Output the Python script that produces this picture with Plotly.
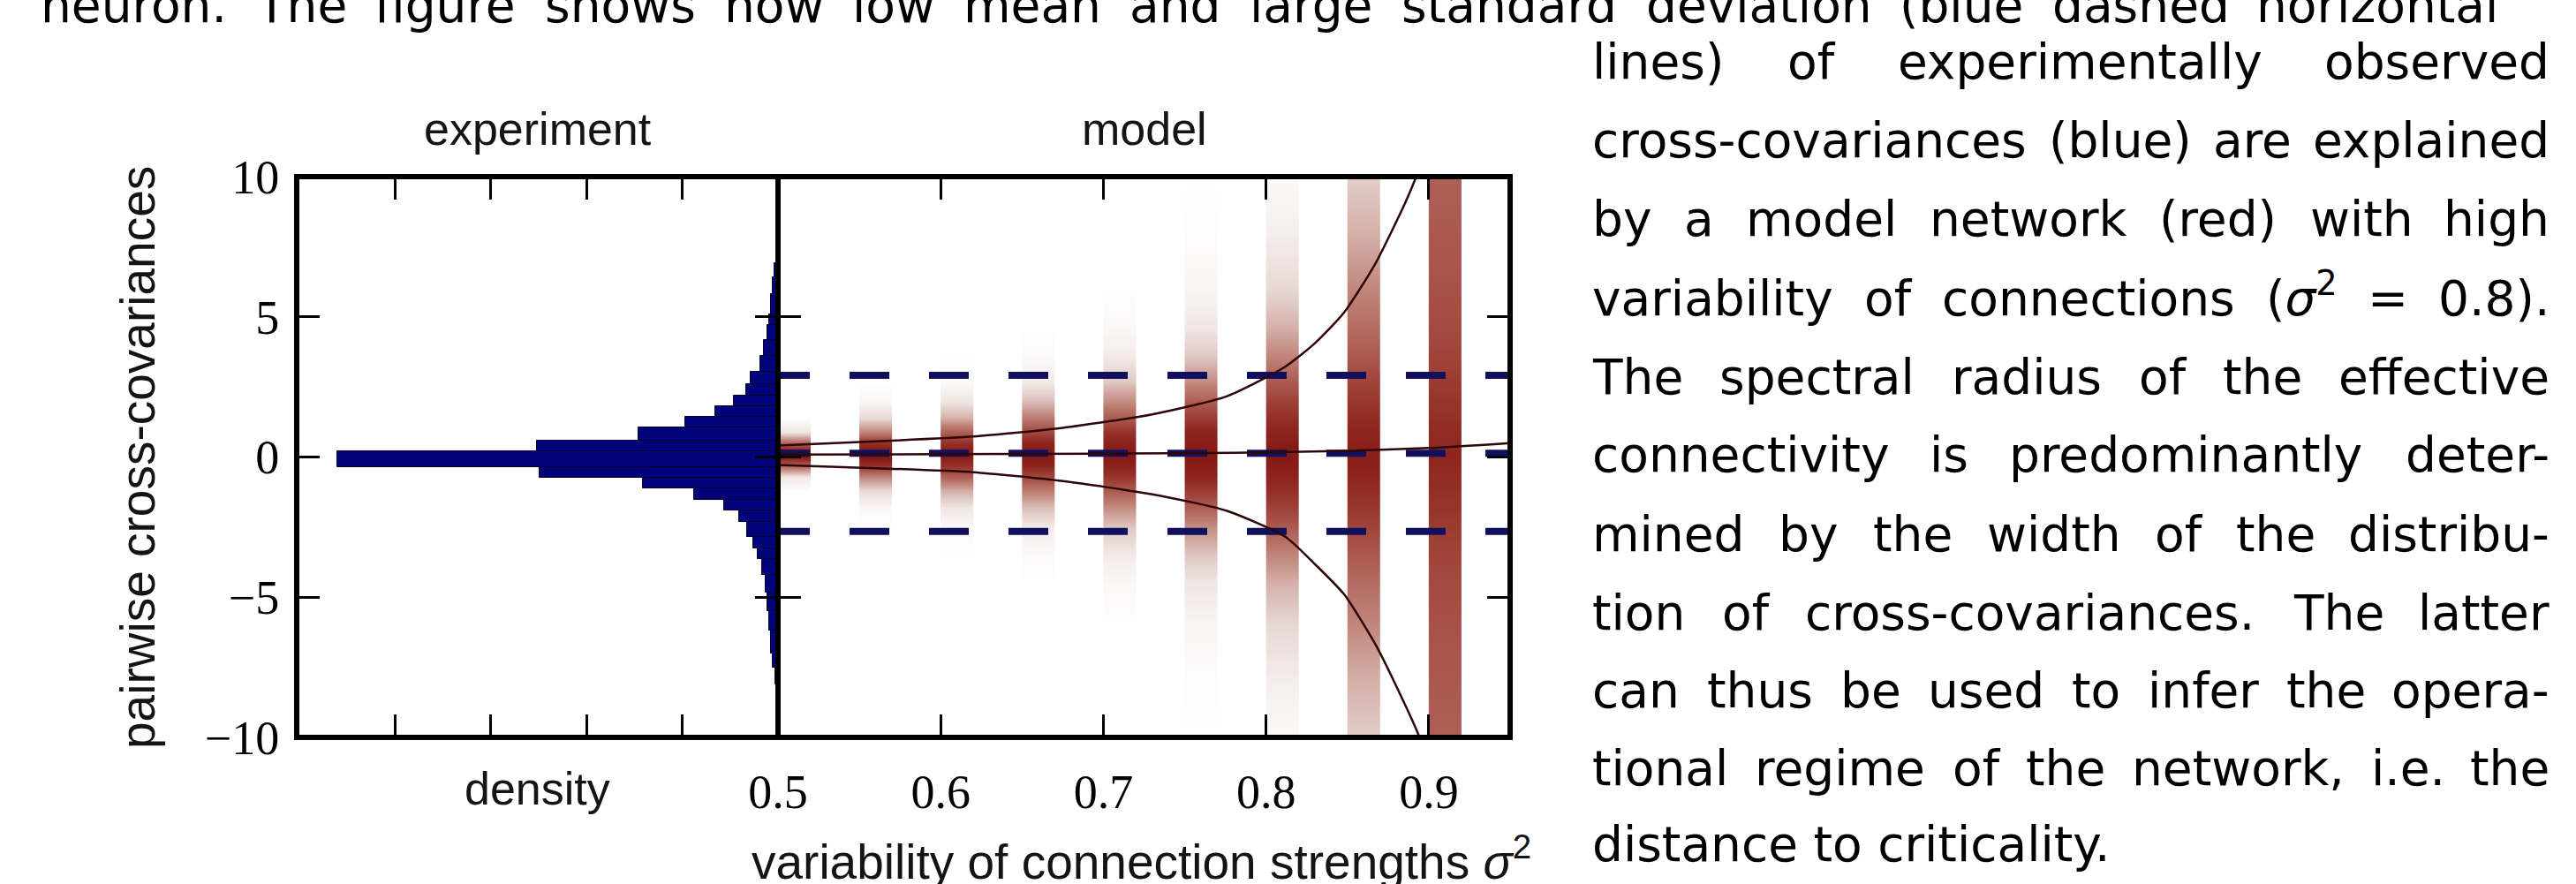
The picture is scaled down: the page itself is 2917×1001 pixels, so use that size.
import re
import plotly.graph_objects as go

W, H = 2917, 1001

# ------------------------------------------------------------------ data
# experiment: histogram of pairwise cross-covariances (horizontal bars)
HIST_LO = [-8.1, -7.5, -7.0, -6.2, -5.5, -4.84, -4.2, -3.64, -3.25, -2.85, -2.32, -1.91, -1.53, -1.12, -0.73,
           -0.35, 0.20, 0.59, 1.06, 1.43, 1.81, 2.18, 2.60, 3.04, 3.60, 4.16, 4.70, 5.10, 5.80, 6.40]
HIST_HI = [-7.5, -7.0, -6.2, -5.5, -4.84, -4.2, -3.64, -3.25, -2.85, -2.32, -1.91, -1.53, -1.12, -0.73, -0.35,
           0.20, 0.59, 1.06, 1.43, 1.81, 2.18, 2.60, 3.04, 3.60, 4.16, 4.70, 5.10, 5.80, 6.40, 6.90]
HIST_DENSITY = [0.003, 0.0055, 0.007, 0.009, 0.011, 0.013, 0.017, 0.021, 0.026, 0.032, 0.041, 0.056, 0.088,
                0.141, 0.249, 0.460, 0.252, 0.146, 0.097, 0.065, 0.046, 0.033, 0.029, 0.018, 0.015, 0.011,
                0.009, 0.007, 0.0055, 0.0037]

# experiment: mean and mean +/- std (blue dashed lines)
EXP_MEAN = 0.13
EXP_UPPER = 2.91
EXP_LOWER = -2.65

# model: distributions of cross-covariances per sigma^2 (red columns)
SIGMA2_COLUMNS = [0.50, 0.55, 0.60, 0.65, 0.70, 0.75, 0.80, 0.85, 0.90]
PROFILE_Y = [-10, -8, -6, -4.5, -3.5, -2.5, -1.8, -1.2, -0.7, -0.3, 0.1, 0.5, 0.9, 1.4, 2.0, 2.7, 3.6, 4.6, 6, 8, 10]
PROFILE_050 = [0, 0, 0, 0, 0, 0, 0, 0, 0.1, 0.6, 1.0, 0.6, 0.1, 0, 0, 0, 0, 0, 0, 0, 0]
PROFILE_055 = [0, 0, 0, 0, 0, 0, 0.03, 0.15, 0.45, 0.8, 0.95, 0.8, 0.45, 0.15, 0.03, 0, 0, 0, 0, 0, 0]
PROFILE_060 = [0, 0, 0, 0, 0, 0.02, 0.1, 0.3, 0.6, 0.8, 0.9, 0.8, 0.6, 0.3, 0.1, 0.02, 0, 0, 0, 0, 0]
PROFILE_065 = [0, 0, 0, 0, 0.02, 0.08, 0.25, 0.48, 0.7, 0.85, 0.9, 0.85, 0.7, 0.48, 0.25, 0.08, 0.02, 0, 0, 0, 0]
PROFILE_070 = [0, 0, 0, 0.03, 0.08, 0.22, 0.42, 0.62, 0.78, 0.86, 0.9, 0.86, 0.78, 0.62, 0.42, 0.22, 0.08, 0.03, 0, 0, 0]
PROFILE_075 = [0, 0.01, 0.04, 0.1, 0.22, 0.42, 0.6, 0.75, 0.85, 0.88, 0.9, 0.88, 0.85, 0.75, 0.6, 0.42, 0.22, 0.1, 0.04, 0.01, 0]
PROFILE_080 = [0.02, 0.07, 0.16, 0.3, 0.45, 0.62, 0.73, 0.8, 0.85, 0.88, 0.9, 0.88, 0.85, 0.8, 0.73, 0.62, 0.45, 0.3, 0.16, 0.07, 0.02]
PROFILE_085 = [0.2, 0.3, 0.44, 0.55, 0.63, 0.72, 0.77, 0.81, 0.84, 0.86, 0.87, 0.86, 0.84, 0.81, 0.77, 0.72, 0.63, 0.55, 0.44, 0.3, 0.2]
PROFILE_090 = [0.6, 0.63, 0.66, 0.69, 0.72, 0.75, 0.78, 0.8, 0.82, 0.83, 0.84, 0.83, 0.82, 0.8, 0.78, 0.75, 0.72, 0.69, 0.66, 0.63, 0.6]
PROFILES = [PROFILE_050, PROFILE_055, PROFILE_060, PROFILE_065, PROFILE_070,
            PROFILE_075, PROFILE_080, PROFILE_085, PROFILE_090]
COLUMN_WIDTH = 0.02

# model: theoretical mean and mean +/- std (thin dark curves)
UPPER_X = [0.50, 0.56, 0.62, 0.675, 0.73, 0.776, 0.812, 0.83, 0.848, 0.867, 0.885, 0.893, 0.90]
UPPER_Y = [0.41, 0.56, 0.73, 1.04, 1.52, 2.17, 3.23, 4.06, 5.16, 6.88, 9.0, 10.1, 11.2]
LOWER_X = [0.50, 0.56, 0.62, 0.675, 0.73, 0.776, 0.812, 0.83, 0.848, 0.867, 0.885, 0.894, 0.902]
LOWER_Y = [-0.28, -0.40, -0.54, -0.86, -1.33, -1.92, -2.85, -3.82, -4.9, -6.66, -8.78, -9.95, -11.3]
MEAN_X = [0.50, 0.60, 0.70, 0.78, 0.85, 0.90, 0.95]
MEAN_Y = [0.09, 0.10, 0.12, 0.15, 0.22, 0.32, 0.50]

Y_TICKS = [-10, -5, 0, 5, 10]
DENSITY_TICKS = [0.1, 0.2, 0.3, 0.4]
SIGMA_TICKS = [0.5, 0.6, 0.7, 0.8, 0.9]
SIGMA_TICKTEXT = ["0.5", "0.6", "0.7", "0.8", "0.9"]

TOP_LINE = "neuron. The figure shows how low mean and large standard deviation (blue dashed horizontal"
COLUMN_LINES = [
    "lines) of experimentally observed",
    "cross-covariances (blue) are explained",
    "by a model network (red) with high",
    "variability of connections (<i>σ</i><sup>2</sup> = 0.8).",
    "The spectral radius of the effective",
    "connectivity is predominantly deter-",
    "mined by the width of the distribu-",
    "tion of cross-covariances. The latter",
    "can thus be used to infer the opera-",
    "tional regime of the network, i.e. the",
    "distance to criticality.",
]

# ------------------------------------------------------------------ layout constants (pixels)
X_LEFT, X_DIV, X_RIGHT = 336, 881, 1710
Y_TOP, Y_BOT = 200, 835
DENS_MAX = (X_DIV - X_LEFT) / 1085.0

def px_x(p):
    return p / W

def px_y(p):
    return 1 - p / H

fig = go.Figure()

# histogram (experiment)
centers = [(lo + hi) / 2 for lo, hi in zip(HIST_LO, HIST_HI)]
heights = [hi - lo for lo, hi in zip(HIST_LO, HIST_HI)]
fig.add_trace(go.Bar(
    y=centers, x=HIST_DENSITY, width=heights, orientation="h",
    marker=dict(color="#02027a", line=dict(color="#00002a", width=1)),
    xaxis="x", yaxis="y", hoverinfo="skip", showlegend=False))

# model columns
CS = [[0.0, "rgb(255,255,255)"], [0.2, "rgb(226,206,201)"], [0.45, "rgb(192,132,122)"],
      [0.7, "rgb(162,72,62)"], [0.85, "rgb(140,35,28)"], [1.0, "rgb(120,8,8)"]]
for s, prof in zip(SIGMA2_COLUMNS, PROFILES):
    fig.add_trace(go.Heatmap(
        z=[[v, v] for v in prof], y=PROFILE_Y, x0=s + COLUMN_WIDTH / 4, dx=COLUMN_WIDTH / 2,
        zmin=0, zmax=1, colorscale=CS, showscale=False, zsmooth="best",
        xaxis="x2", yaxis="y2", hoverinfo="skip"))

# blue dashed lines (experimental mean +/- std)
dash_start = 0.5 - 9 / 1842.0
for yv in [EXP_UPPER, EXP_MEAN, EXP_LOWER]:
    fig.add_trace(go.Scatter(
        x=[dash_start, 0.95], y=[yv, yv], mode="lines",
        line=dict(color="#10105e", width=8, dash="45px,45px"),
        xaxis="x2", yaxis="y2", hoverinfo="skip", showlegend=False))

# model curves
for xs, ys in [(UPPER_X, UPPER_Y), (LOWER_X, LOWER_Y), (MEAN_X, MEAN_Y)]:
    fig.add_trace(go.Scatter(
        x=xs, y=ys, mode="lines", line=dict(color="#2e0606", width=2.5, shape="spline", smoothing=0.6),
        xaxis="x2", yaxis="y2", hoverinfo="skip", showlegend=False))

tick_common = dict(ticks="inside", ticklen=26, tickwidth=2.5, tickcolor="black", mirror="ticks",
                   showline=True, linecolor="rgba(0,0,0,0)", linewidth=1, showgrid=False,
                   zeroline=False, fixedrange=True, automargin=False)
serif = dict(family="Liberation Serif", size=54, color="black")

fig.update_layout(
    width=W, height=H, margin=dict(l=0, r=0, t=0, b=0, autoexpand=False),
    paper_bgcolor="white", plot_bgcolor="white", showlegend=False, bargap=0,
    xaxis=dict(domain=[px_x(X_LEFT), px_x(X_DIV)], range=[DENS_MAX, 0], tickvals=DENSITY_TICKS,
               showticklabels=False, anchor="y", **tick_common),
    yaxis=dict(domain=[px_y(Y_BOT), px_y(Y_TOP)], range=[-10, 10], tickvals=Y_TICKS,
               tickfont=serif, ticklabelstandoff=8, anchor="x", **tick_common),
    xaxis2=dict(domain=[px_x(X_DIV), px_x(X_RIGHT)], range=[0.5, 0.95], tickvals=SIGMA_TICKS,
                ticktext=SIGMA_TICKTEXT, tickfont=serif, ticklabelstandoff=14, anchor="y2", **tick_common),
    yaxis2=dict(domain=[px_y(Y_BOT), px_y(Y_TOP)], range=[-10, 10], tickvals=Y_TICKS,
                showticklabels=False, anchor="x2", **tick_common),
)

# frame and divider
fig.add_shape(type="rect", xref="paper", yref="paper", x0=px_x(X_LEFT), x1=px_x(X_RIGHT),
              y0=px_y(Y_BOT), y1=px_y(Y_TOP), line=dict(color="black", width=6), layer="above")
fig.add_shape(type="line", xref="paper", yref="paper", x0=px_x(X_DIV), x1=px_x(X_DIV),
              y0=px_y(Y_BOT), y1=px_y(Y_TOP), line=dict(color="black", width=6), layer="above")

SANS = "Liberation Sans"

def label(text, xc, baseline, size, xanchor="center"):
    fig.add_annotation(text=text, x=px_x(xc), y=px_y(baseline + 0.212 * size), xref="paper", yref="paper",
                       xanchor=xanchor, yanchor="bottom", showarrow=False, borderpad=0,
                       font=dict(family=SANS, size=size, color="#141414"))

label("experiment", (X_LEFT + X_DIV) / 2, 165, 52)
label("model", (X_DIV + X_RIGHT) / 2, 165, 52)
label("density", (X_LEFT + X_DIV) / 2, 912, 52)
label("variability of connection strengths <i>σ</i><sup>2</sup>", 1292, 996, 55)
fig.add_annotation(text="pairwise cross-covariances", x=px_x(156), y=px_y(518), xref="paper", yref="paper",
                   xanchor="center", yanchor="middle", textangle=-90, showarrow=False, borderpad=0,
                   font=dict(family=SANS, size=55, color="#141414"))

# ------------------------------------------------------------------ text column (justified)
CW = {" ": .318, "(": .390, ")": .390, ",": .318, "-": .361, ".": .318, "=": .838, "T": .611,
      "a": .613, "b": .635, "c": .550, "d": .635, "e": .615, "f": .352, "g": .635, "h": .634,
      "i": .278, "j": .278, "k": .579, "l": .278, "m": .974, "n": .634, "o": .612, "p": .635,
      "q": .635, "r": .411, "s": .521, "t": .392, "u": .634, "v": .592, "w": .818, "x": .592,
      "y": .592, "z": .525, "σ": .634}
for d in "0123456789":
    CW[d] = .636

TXT_FONT = "DejaVu Sans"
TXT_SIZE = 55

def word_width(word, size):
    total, scale = 0.0, 1.0
    for tok in re.split(r"(<[^>]+>)", word):
        if tok == "<sup>":
            scale = 0.7
        elif tok == "</sup>":
            scale = 1.0
        elif tok.startswith("<"):
            continue
        else:
            total += sum(CW.get(ch, 0.6) for ch in tok) * scale
    return total * size

def text_ann(text, x, baseline, anchor):
    fig.add_annotation(text=text, x=px_x(x), y=px_y(baseline + 0.236 * TXT_SIZE), xref="paper", yref="paper",
                       xanchor=anchor, yanchor="bottom", showarrow=False, borderpad=0,
                       font=dict(family=TXT_FONT, size=TXT_SIZE, color="black"))

def justified(line, left, right, baseline):
    words = line.split(" ")
    widths = [word_width(w, TXT_SIZE) for w in words]
    gap = (right - left - sum(widths)) / (len(words) - 1)
    x = left
    for i, (w, wd) in enumerate(zip(words, widths)):
        if i == len(words) - 1:
            text_ann(w, right, baseline, "right")
        else:
            text_ann(w, x, baseline, "left")
        x += wd + gap

justified(TOP_LINE, 45, 2830, 26)
COL_BASELINES = [90, 179, 268, 358, 447, 535, 625, 714, 802, 890, 976]
for i, (line, bl) in enumerate(zip(COLUMN_LINES, COL_BASELINES)):
    if i == len(COLUMN_LINES) - 1:
        text_ann(line, 1802, bl, "left")
    else:
        justified(line, 1802, 2888, bl)

fig.write_html("out.html", post_script=(
    "document.documentElement.style.margin='0';document.body.style.margin='0';"
    "document.body.style.padding='0';document.documentElement.style.overflow='hidden';"
    "document.body.style.overflow='hidden';"))
